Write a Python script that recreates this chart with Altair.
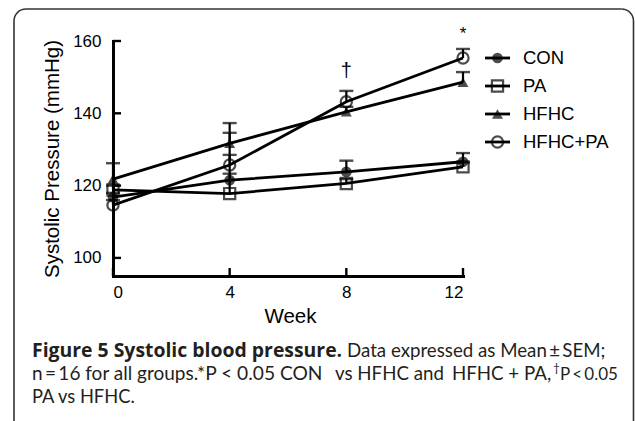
import altair as alt
import pandas as pd
import math

# ---------------- data ----------------
weeks = [0, 4, 8, 12]
series_names = ["CON", "PA", "HFHC", "HFHC+PA"]
con_mean = [116.8, 121.5, 123.8, 126.6]
con_upper = [118.0, 123.3, 126.9, 129.0]
pa_mean = [118.8, 117.8, 120.6, 125.2]
pa_upper = [120.0, 128.5, 121.8, 126.4]
hfhc_mean = [121.8, 131.7, 140.4, 148.6]
hfhc_upper = [126.2, 137.3, 141.8, 151.4]
hfhcpa_mean = [114.6, 125.7, 143.2, 155.3]
hfhcpa_upper = [116.0, 134.6, 146.2, 157.8]

y_tick_values = [100, 120, 140, 160]
x_tick_values = [0, 4, 8, 12]

annot_week = [8, 12]
annot_value = [151.6, 162.0]
annot_text = ["\u2020", "*"]
annot_size = [20, 17]

TS = "\u2009"  # thin space, as in the typeset caption
caption_line1_bold = "Figure 5 Systolic blood pressure."
caption_line1_reg = f"Data expressed as Mean{TS}\u00b1{TS}SEM;"
caption_line2_a = f"n{TS}={TS}16 for all groups."
caption_line2_b = "*P < 0.05 CON"
caption_line2_c = "vs HFHC and"
caption_line2_c2 = "HFHC + PA,"
caption_line2_dag = "\u2020"
caption_line2_d = f"P{TS}<{TS}0.05"
caption_line3 = "PA vs HFHC."

means = {"CON": con_mean, "PA": pa_mean, "HFHC": hfhc_mean, "HFHC+PA": hfhcpa_mean}
uppers = {"CON": con_upper, "PA": pa_upper, "HFHC": hfhc_upper, "HFHC+PA": hfhcpa_upper}

rows = []
for s in series_names:
    for w, m, u in zip(weeks, means[s], uppers[s]):
        rows.append({"series": s, "week": w, "value": m, "upper": u})
df = pd.DataFrame(rows)

legend_df = pd.DataFrame({"series": series_names, "rank": list(range(len(series_names)))})
ytick_df = pd.DataFrame({"value": y_tick_values})
xtick_df = pd.DataFrame({"week": x_tick_values})
annot_df = pd.DataFrame({"week": annot_week, "value": annot_value, "label": annot_text, "fs": annot_size})

# ---------------- layout ----------------
W, H = 350, 235
PL, PT = 113, 41
AX_FONT = "Liberation Sans"
CAP_FONT = "Lato"
CAP_BOLD_FONT = "Open Sans"

X = alt.X("week:Q",
          scale=alt.Scale(domain=[0, 12], nice=False, zero=False),
          axis=alt.Axis(values=x_tick_values, title="Week", ticks=False, tickSize=0,
                        labelPadding=8, titleX=177, titleY=46, titleBaseline="alphabetic",
                        titleAlign="center"))
Y = alt.Y("value:Q",
          scale=alt.Scale(domain=[95, 160], nice=False, zero=False),
          axis=alt.Axis(values=y_tick_values, title="Systolic Pressure (mmHg)", ticks=False,
                        tickSize=0, labelPadding=12, titleX=-61, titleY=117.5,
                        titleBaseline="middle", titleAlign="center", titleAngle=-90))

base = alt.Chart(df)

lines = base.mark_line(color="black", strokeWidth=2.8).encode(x=X, y=Y, detail="series:N")
err_rule = base.mark_rule(color="black", strokeWidth=2.2).encode(x=X, y=Y, y2="upper:Q")
err_cap = base.mark_tick(orient="horizontal", size=14, thickness=2.4, color="black").encode(
    x=X, y=alt.Y("upper:Q", scale=alt.Scale(domain=[95, 160], nice=False, zero=False), title="Systolic Pressure (mmHg)"))

marker_props = {
    "CON": dict(shape="circle", filled=True, size=115, color="black"),
    "PA": dict(shape="square", filled=False, size=125, strokeWidth=2.2, color="black"),
    "HFHC": dict(shape="triangle-up", filled=True, size=120, color="black"),
    "HFHC+PA": dict(shape="circle", filled=False, size=125, strokeWidth=2.2, color="black"),
}
points = [base.transform_filter(alt.datum.series == s).mark_point(**marker_props[s]).encode(x=X, y=Y)
          for s in series_names]

ytick_rules = alt.Chart(ytick_df).mark_rule(color="black", strokeWidth=2.4).encode(
    y=Y, x=alt.value(0), x2=alt.value(8))
xtick_rules = alt.Chart(xtick_df).mark_rule(color="black", strokeWidth=2.4).encode(
    x=X, y=alt.value(H), y2=alt.value(H - 8))

annots = alt.Chart(annot_df).mark_text(font=AX_FONT, color="black", baseline="middle").encode(
    x=X, y=Y, text="label:N", size=alt.Size("fs:Q", scale=None, legend=None))

# frame edges (pixel offsets relative to the plot area)
FC = "#333333"
FW = 1.6
frame_left = alt.Chart(ytick_df.head(1)).mark_rule(color=FC, strokeWidth=FW).encode(
    x=alt.value(-99), y=alt.value(-20), y2=alt.value(400))
frame_right = alt.Chart(ytick_df.head(1)).mark_rule(color=FC, strokeWidth=FW).encode(
    x=alt.value(520.5), y=alt.value(-20), y2=alt.value(400))
frame_top = alt.Chart(ytick_df.head(1)).mark_rule(color=FC, strokeWidth=FW).encode(
    x=alt.value(-87), x2=alt.value(508.5), y=alt.value(-32))
frame_arcs = [
    alt.Chart(ytick_df.head(1)).mark_arc(color=FC, radius=12.8, radius2=11.2,
                                         theta=1.5 * math.pi, theta2=2 * math.pi).encode(
        x=alt.value(-87), y=alt.value(-20)),
    alt.Chart(ytick_df.head(1)).mark_arc(color=FC, radius=12.8, radius2=11.2,
                                         theta=0.0001, theta2=0.5 * math.pi).encode(
        x=alt.value(508.5), y=alt.value(-20)),
]

main = alt.layer(frame_left, frame_right, frame_top, *frame_arcs,
                 xtick_rules, ytick_rules, lines, err_rule, err_cap, *points, annots)

# ---------------- manual legend ----------------
LY = alt.Y("rank:Q", scale=alt.Scale(domain=[0, 3], range=[17, 101]), axis=None)
lbase = alt.Chart(legend_df)
leg_rule = lbase.mark_rule(color="black", strokeWidth=2.8).encode(
    y=LY, x=alt.value(372), x2=alt.value(397))
leg_pts = [lbase.transform_filter(alt.datum.series == s).mark_point(**marker_props[s]).encode(
    y=LY, x=alt.value(384.5)) for s in series_names]
leg_txt = lbase.mark_text(align="left", baseline="middle", font=AX_FONT, fontSize=18.5,
                          color="black").encode(y=LY, x=alt.value(410), text="series:N")
legend = alt.layer(leg_rule, *leg_pts, leg_txt)

one = pd.DataFrame({"k": [0]})


def cap(text, x, y, bold=False, size=18.0):
    return alt.Chart(one).mark_text(text=text, align="left", baseline="alphabetic",
                                    font=CAP_BOLD_FONT if bold else CAP_FONT,
                                    fontSize=size, fontWeight="bold" if bold else "normal",
                                    color="#231f20").encode(x=alt.value(x), y=alt.value(y))


captions = [
    cap(caption_line1_bold, -81, 316, bold=True, size=19.4),
    cap(caption_line1_reg, 234, 316, size=18.7),
    cap(caption_line2_a, -81, 339, size=19),
    cap(caption_line2_b, 84, 339, size=19.2),
    cap(caption_line2_c, 222, 339, size=18.7),
    cap(caption_line2_c2, 339, 339, size=18.7),
    cap(caption_line2_dag, 440, 331, size=12),
    cap(caption_line2_d, 447, 339, size=17),
    cap(caption_line3, -81, 362, size=18.3),
]

chart = alt.layer(main, legend, *captions).resolve_scale(y="independent").properties(
    width=W, height=H,
    autosize=alt.AutoSizeParams(type="none"),
    padding={"left": PL, "top": PT, "right": 635 - PL - W, "bottom": 421 - PT - H},
    background="white",
).configure_view(stroke=None).configure_axis(
    domainColor="black", domainWidth=3, domainCap="square", grid=False,
    labelFont=AX_FONT, labelFontSize=17, labelColor="black",
    titleFont=AX_FONT, titleFontSize=20.5, titleFontWeight="normal", titleColor="black",
)

chart.save("out.html", embed_options={"renderer": "svg", "actions": False})
